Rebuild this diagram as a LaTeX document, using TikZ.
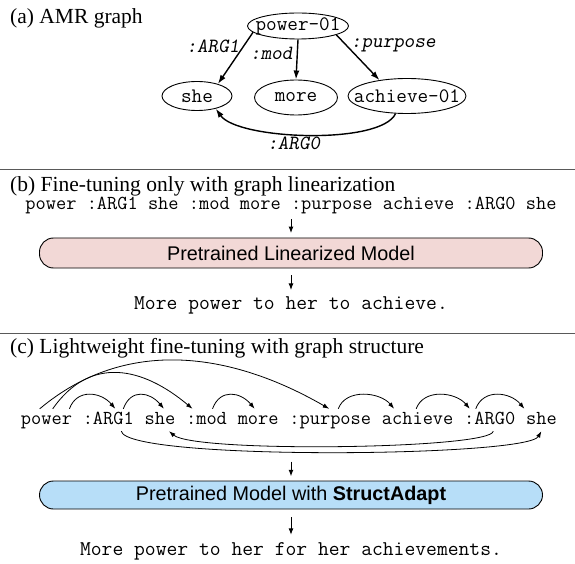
\documentclass[tikz,border=0pt]{standalone}
\usepackage{fontspec}
\setmainfont{Liberation Serif}
\setsansfont{Liberation Sans}
\usetikzlibrary{arrows.meta}
\usetikzlibrary{positioning}
\usetikzlibrary{shapes.geometric}

\definecolor{linpink}{RGB}{242,216,214}
\definecolor{adaptblue}{RGB}{183,222,248}
\newcommand{\amrlabel}[1]{\makebox[0pt]{#1}}

\begin{document}
\begin{tikzpicture}[x=1pt,y=1pt,node distance=10.41pt,
  parthead/.style={anchor=west,inner sep=0pt,font=\fontsize{21.5}{24}\selectfont},
  amr/.style={ellipse,draw,line width=0.9pt,inner sep=0pt,font=\fontsize{20.6}{22}\ttfamily},
  rel/.style={inner sep=1pt,font=\fontsize{20.2}{22}\ttfamily\slshape},
  amredge/.style={line width=1.4pt,-{Latex[length=9pt,width=6pt]}},
  tok/.style={inner xsep=0pt,inner ysep=3pt,text height=12pt,text depth=4pt,font=\fontsize{19.83}{22}\ttfamily},
  dep/.style={line width=0.8pt,-{Latex[length=6.5pt,width=4.5pt]}},
  hop/.style={out=70,in=130,distance=22pt},
  flow/.style={line width=1pt,-{Latex[length=6.5pt,width=5pt]}},
  model/.style={draw,line width=0.9pt,rounded corners=14pt,minimum width=503pt,inner sep=0pt,font=\fontsize{19.8}{22}\sffamily},
  sent/.style={anchor=base,inner sep=0pt,font=\fontsize{21}{23}\ttfamily},
  divider/.style={line width=1pt,color=black!65}]
\useasboundingbox (0,0) rectangle (575,563);

% (a) AMR graph
\node[parthead] (atitle) at (10,544.7) {(a) AMR graph};
\node[amr,minimum width=101pt,minimum height=26pt] (power) at (298,537) {\amrlabel{power-01}};
\node[amr,minimum width=70pt,minimum height=29pt] (she) at (197,467) {\amrlabel{she}};
\node[amr,minimum width=83pt,minimum height=35pt] (more) at (296,465.5) {\amrlabel{more}};
\node[amr,minimum width=118pt,minimum height=35pt] (achieve) at (407,467) {\amrlabel{achieve-01}};
\draw[amredge] (power.188) -- node[rel,pos=0.28,left=2pt] {:ARG1} (she.30);
\draw[amredge] (power.south) -- node[rel,pos=0.35,left=3pt] {:mod} (more.north);
\draw[amredge] (power.-13) -- node[rel,pos=0.23,right=3pt] {:purpose} (achieve.150);
\draw[amredge] (achieve.237) .. controls +(-115:35) and +(-55:38) .. (she.-34) node[rel,pos=0.56,below=1pt] {:ARG0};
\draw[divider] (0,393) -- (575,393);

% (b) linearization only
\node[parthead] (btitle) at (10,376.3) {(b) Fine-tuning only with graph linearization};
\node[tok,anchor=base] (blin) at (291,353) {power :ARG1 she :mod more :purpose achieve :ARG0 she};
\node[model,fill=linpink,minimum height=30pt] (bbox) at (291,310) {Pretrained Linearized Model};
\node[sent] (bout) at (291,254) {More power to her to achieve.};
\draw[flow,shorten <=2pt,shorten >=4.5pt] (blin.south) -- (bbox.north);
\draw[flow,shorten <=7pt,shorten >=6pt] (bbox.south) -- (bout.north);
\draw[divider] (0,229.7) -- (575,229.7);

% (c) with graph structure
\node[parthead] (ctitle) at (10,214.7) {(c) Lightweight fine-tuning with graph structure};
\node[tok,anchor=base west] (tpower) at (20.7,139) {power};
\node[tok,right=of tpower] (targ1) {:ARG1};
\node[tok,right=of targ1] (tshe) {she};
\node[tok,right=of tshe] (tmod) {:mod};
\node[tok,right=of tmod] (tmore) {more};
\node[tok,right=of tmore] (tpurpose) {:purpose};
\node[tok,right=of tpurpose] (tachieve) {achieve};
\node[tok,right=of tachieve] (targ0) {:ARG0};
\node[tok,right=of targ0] (tshe2) {she};
\draw[dep] ([xshift=-6.7pt]tpower.north) to[out=40,in=150] ([xshift=-1pt]tpurpose.north);
\draw[dep] ([xshift=6.3pt]tpower.north) to[out=55,in=140,looseness=1.2] ([xshift=-14pt]tmod.north);
\draw[dep] ([xshift=23pt]tpower.north) to[hop] ([xshift=7pt]targ1.north);
\draw[dep] ([xshift=15pt]targ1.north) to[hop] ([xshift=4pt]tshe.north);
\draw[dep] ([xshift=6pt]tmod.north) to[hop] ([xshift=-3.5pt]tmore.north);
\draw[dep] ([xshift=8pt]tpurpose.north) to[hop] ([xshift=-23.5pt]tachieve.north);
\draw[dep] ([xshift=-1.5pt]tachieve.north) to[hop] ([xshift=-20pt]targ0.north);
\draw[dep] ([xshift=-14pt]targ0.north) to[hop] ([xshift=-17pt]tshe2.north);
\draw[dep] ([xshift=3.5pt]targ0.south) to[out=-95,in=-40,out distance=18pt,in distance=34pt] ([xshift=9pt]tshe.south);
\draw[dep] ([xshift=13pt]targ1.south) to[out=-80,in=-120,out distance=30pt,in distance=30pt] (tshe2.south);
\coordinate (cgap) at (291,101.3);
\node[model,fill=adaptblue,minimum height=28pt] (cbox) at (291,68) {Pretrained Model with \textbf{StructAdapt}};
\node[sent] (cout) at (291,8) {More power to her for her achievements.};
\draw[flow,shorten >=4.3pt] (cgap) -- (cbox.north);
\draw[flow,shorten <=8pt,shorten >=7pt] (cbox.south) -- (cout.north);
\end{tikzpicture}
\end{document}
